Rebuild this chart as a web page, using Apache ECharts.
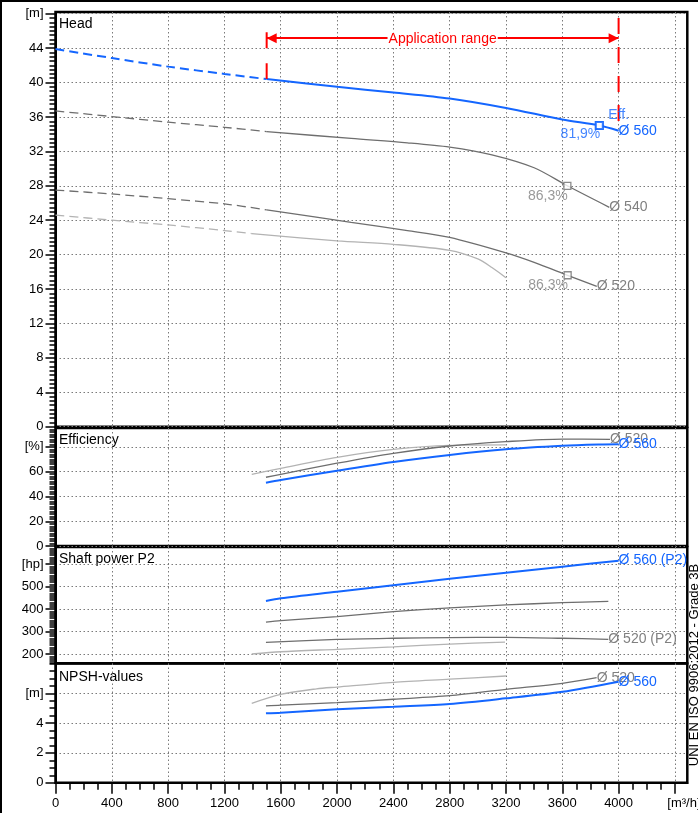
<!DOCTYPE html>
<html>
<head>
<meta charset="utf-8">
<script src="https://cdn.jsdelivr.net/npm/echarts@6/dist/echarts.min.js"></script>
<style>
html, body { margin: 0; padding: 0; background: #fff; }
#chart { width: 698px; height: 813px; }
</style>
</head>
<body>
<div id="chart"></div>
<script>
// ---- axes ----
const qTicks = [0, 400, 800, 1200, 1600, 2000, 2400, 2800, 3200, 3600, 4000, 4400];
const qUnitAt = 4400;
const headTicks = [0, 4, 8, 12, 16, 20, 24, 28, 32, 36, 40, 44, 48];
const effTicks = [0, 20, 40, 60, 80];
const powerTicks = [200, 300, 400, 500, 600];
const npshTicks = [0, 2, 4, 6];

// ---- head [m] ----
const h560DashQ = [0, 400, 800, 1200, 1500];
const h560DashH = [43.9, 42.85, 41.85, 41.0, 40.4];
const h560Q = [1500, 2000, 2400, 2800, 3200, 3600, 3863, 4000];
const h560H = [40.4, 39.5, 38.85, 38.15, 37.05, 35.7, 35.0, 34.4];

const h540DashQ = [0, 400, 800, 1200, 1500];
const h540DashH = [36.7, 36.05, 35.4, 34.8, 34.3];
const h540Q = [1500, 2100, 2500, 2800, 3100, 3400, 3636, 3934];
const h540H = [34.3, 33.5, 33.0, 32.5, 31.6, 30.1, 28.0, 25.5];

const h520DashQ = [0, 400, 800, 1200, 1500];
const h520DashH = [27.5, 27.05, 26.5, 25.9, 25.2];
const h520Q = [1500, 2100, 2500, 2800, 3200, 3400, 3638, 3845];
const h520H = [25.2, 23.75, 22.8, 22.0, 20.2, 19.1, 17.6, 16.3];

const h500DashQ = [0, 400, 800, 1200, 1394];
const h500DashH = [24.6, 24.0, 23.45, 22.8, 22.45];
const h500Q = [1394, 2000, 2400, 2800, 3000, 3100, 3200];
const h500H = [22.45, 21.6, 21.2, 20.5, 19.5, 18.5, 17.3];

// best efficiency points
const bep560 = [3863, 35.0];
const bep560Label = '81,9%';
const bepGrayQ = [3636, 3638];
const bepGrayH = [28.0, 17.6];
const bepGrayLabel = '86,3%';

// application range
const appRangeQ = [1500, 4000];
const appRangeArrowH = 45.16;
const appRangeTopH = [45.86, 47.5];
const appRangeBottomH = [40.4, 34.4];

// ---- efficiency [%] ----
const e500Q = [1394, 1600, 2000, 2400, 2800, 3200];
const e500 = [57.9, 62.7, 71.6, 78.0, 81.2, 81.6];
const e520Q = [1495, 1600, 2000, 2400, 2800, 3200, 3600, 3939];
const e520 = [55.5, 57.9, 66.8, 74.8, 80.7, 84.2, 86.3, 86.1];
const e560Q = [1495, 1600, 2000, 2400, 2800, 3200, 3600, 3863, 4000];
const e560 = [51.1, 53.3, 60.8, 67.8, 73.5, 78.1, 80.9, 81.9, 82.1];

// ---- shaft power P2 [hp] ----
const p500Q = [1394, 1600, 2000, 2400, 2800, 3193];
const p500 = [200, 210, 221, 232, 244, 253];
const p520Q = [1495, 2000, 2400, 2800, 3200, 3600, 3927];
const p520 = [252, 265, 270, 273, 274, 270, 265];
const p540Q = [1495, 1600, 2000, 2400, 2800, 3200, 3600, 3927];
const p540 = [342, 348, 366, 388, 405, 418, 428, 434];
const p560Q = [1495, 1600, 2000, 2400, 2800, 3200, 3600, 4000];
const p560 = [436, 448, 477, 506, 534, 561, 588, 615];

// ---- NPSH [m] ----
const n500Q = [1394, 1600, 1855, 2000, 2400, 2800, 3200];
const n500 = [5.33, 5.93, 6.3, 6.42, 6.74, 6.95, 7.16];
const n520Q = [1495, 1600, 2000, 2400, 2800, 3200, 3600, 3844];
const n520 = [5.15, 5.21, 5.37, 5.6, 5.84, 6.27, 6.67, 7.05];
const n560Q = [1495, 1600, 2000, 2400, 2800, 3200, 3600, 4000];
const n560 = [4.66, 4.7, 4.93, 5.1, 5.28, 5.66, 6.1, 6.78];

// ---- styling ----
const FONT = '"Liberation Sans", Arial, sans-serif';
const BLUE = '#1466ff';
const DARK = '#6e6e6e';
const LIGHT = '#b3b3b3';
const LABEL_GRAY = '#808080';
const RED = '#ff0000';
const GRID_LINE = { color: '#7a7a7a', width: 1, type: [1.5, 2.5] };

const Q_MAX = 4488;
const PLOT_LEFT = 55.5;
const PLOT_WIDTH = 631.8;

const zip = (xs, ys) => xs.map((x, i) => [x, ys[i]]);
function steps(from, to, step) {
  const out = [];
  for (let v = from; v <= to + 1e-9; v += step) out.push(+v.toFixed(3));
  return out;
}

const panels = [
  { top: 12, height: 414.7, min: 0, max: 48.2, ticks: headTicks, unitAt: 48, unit: '[m]', minor: steps(0, 48, 0.5) },
  { top: 428, height: 118.1, min: 0, max: 95.2, ticks: effTicks, unitAt: 80, unit: '[%]', minor: steps(0, 94, 2) },
  { top: 547, height: 116.3, min: 158.7, max: 675.6, ticks: powerTicks, unitAt: 600, unit: '[hp]', minor: steps(160, 670, 10) },
  { top: 663.5, height: 119.2, min: 0, max: 8, ticks: npshTicks, unitAt: 6, unit: '[m]', minor: steps(0, 8, 0.5) }
];

const grids = panels.map(p => ({
  left: PLOT_LEFT, top: p.top, width: PLOT_WIDTH, height: p.height,
  show: true, borderColor: '#000', borderWidth: 2.5, backgroundColor: 'transparent',
  containLabel: false, outerBoundsMode: 'none'
}));

const xAxes = panels.map((p, i) => {
  const bottom = i === panels.length - 1;
  return {
    type: 'value', gridIndex: i, min: 0, max: Q_MAX, position: 'bottom',
    axisLine: { show: bottom, onZero: false, lineStyle: { color: '#000', width: 2 } },
    axisTick: { show: bottom, customValues: qTicks, length: 11, lineStyle: { color: '#000', width: 1.5 } },
    axisLabel: {
      show: bottom, customValues: qTicks, margin: 14, color: '#000', fontSize: 13, fontFamily: FONT,
      formatter: v => v === qUnitAt ? '{u|[m³/h]}' : String(v),
      rich: { u: { color: '#000', fontSize: 13, fontFamily: FONT, padding: [0, 0, 0, 18] } }
    },
    splitLine: { show: true, lineStyle: GRID_LINE }
  };
});
// minor flow ticks
xAxes.push({
  type: 'value', gridIndex: 3, min: 0, max: Q_MAX, position: 'bottom', offset: 0,
  axisLine: { show: false, onZero: false },
  axisTick: { show: true, customValues: steps(0, 4400, 100), length: 7, lineStyle: { color: '#000', width: 1.5 } },
  axisLabel: { show: false },
  splitLine: { show: false }
});

const yAxes = panels.map((p, i) => ({
  type: 'value', gridIndex: i, min: p.min, max: p.max, position: 'left',
  axisLine: { show: true, onZero: false, lineStyle: { color: '#000', width: 2 } },
  axisTick: { show: true, customValues: p.ticks, length: 10, lineStyle: { color: '#000', width: 1.5 } },
  axisLabel: {
    show: true, customValues: p.ticks, margin: 12, color: '#000', fontSize: 13, fontFamily: FONT,
    formatter: v => v === p.unitAt ? p.unit : String(v)
  },
  splitLine: { show: true, lineStyle: GRID_LINE }
}));
panels.forEach((p, i) => {
  yAxes.push({
    type: 'value', gridIndex: i, min: p.min, max: p.max, position: 'left', offset: 0,
    axisLine: { show: false, onZero: false },
    axisTick: { show: true, customValues: p.minor, length: 6, lineStyle: { color: '#000', width: 1.5 } },
    axisLabel: { show: false },
    splitLine: { show: false }
  });
});

function curve(panel, xs, ys, color, width, dashed, endText, z) {
  const s = {
    type: 'line', xAxisIndex: panel, yAxisIndex: panel,
    data: zip(xs, ys), symbol: 'none', showSymbol: false, silent: true,
    smooth: 0.3, z: z || 2,
    lineStyle: { color: color, width: width, type: dashed ? [9, 5] : 'solid' }
  };
  if (endText) {
    s.endLabel = {
      show: true, formatter: endText, distance: 0,
      color: color === BLUE ? BLUE : LABEL_GRAY,
      fontSize: 14, fontFamily: FONT
    };
  }
  return s;
}

function bepMarker(points, color, borderWidth, text, pos, align, z) {
  return {
    type: 'scatter', xAxisIndex: 0, yAxisIndex: 0, silent: true, z: z || 5,
    data: points, symbol: 'rect', symbolSize: 7,
    itemStyle: { color: '#fff', borderColor: color, borderWidth: borderWidth },
    label: {
      show: true, formatter: text, position: pos, align: align, verticalAlign: 'middle',
      color: color === BLUE ? BLUE : LABEL_GRAY, fontSize: 14, fontFamily: FONT
    }
  };
}

const series = [
  // head
  curve(0, h500DashQ, h500DashH, LIGHT, 1.3, true),
  curve(0, h500Q, h500H, LIGHT, 1.3, false),
  curve(0, h520DashQ, h520DashH, DARK, 1.3, true),
  curve(0, h520Q, h520H, DARK, 1.3, false, 'Ø 520'),
  curve(0, h540DashQ, h540DashH, DARK, 1.3, true),
  curve(0, h540Q, h540H, DARK, 1.3, false, 'Ø 540'),
  curve(0, h560DashQ, h560DashH, BLUE, 2, true, null, 3),
  curve(0, h560Q, h560H, BLUE, 2, false, 'Ø 560', 3),
  // application range
  {
    type: 'line', xAxisIndex: 0, yAxisIndex: 0, silent: true, symbol: 'none', z: 4,
    data: [[appRangeQ[0], appRangeTopH[0]], [appRangeQ[0], appRangeBottomH[0]]],
    lineStyle: { color: RED, width: 2, type: [16, 15] },
    markLine: {
      silent: true, animation: false,
      symbol: ['triangle', 'triangle'], symbolSize: [10, 10], symbolOffset: [[0, 5], [0, 5]],
      lineStyle: { color: RED, width: 2, type: 'solid' },
      label: {
        show: true, position: 'middle', distance: -8, formatter: 'Application range',
        color: RED, fontSize: 14, fontFamily: FONT, backgroundColor: '#fff', padding: [0, 1]
      },
      data: [[{ coord: [appRangeQ[0], appRangeArrowH] }, { coord: [appRangeQ[1], appRangeArrowH] }]]
    }
  },
  {
    type: 'line', xAxisIndex: 0, yAxisIndex: 0, silent: true, symbol: 'none', z: 4,
    data: [[appRangeQ[1], appRangeTopH[1]], [appRangeQ[1], appRangeBottomH[1]]],
    lineStyle: { color: RED, width: 2, type: [16, 13] }
  },
  bepMarker(zip(bepGrayQ, bepGrayH), DARK, 1.3, bepGrayLabel, [4.5, 14.5], 'right'),
  bepMarker([bep560], BLUE, 2, bep560Label, [5.5, 13], 'right', 6),
  bepMarker([bep560], BLUE, 2, 'Eff.', [13.5, -5.5], 'left', 6),
  // efficiency
  curve(1, e500Q, e500, LIGHT, 1.3, false),
  curve(1, e520Q, e520, DARK, 1.3, false, 'Ø 520'),
  curve(1, e560Q, e560, BLUE, 2, false, 'Ø 560', 3),
  // shaft power
  curve(2, p500Q, p500, LIGHT, 1.3, false),
  curve(2, p520Q, p520, DARK, 1.3, false, 'Ø 520 (P2)'),
  curve(2, p540Q, p540, DARK, 1.3, false),
  curve(2, p560Q, p560, BLUE, 2, false, 'Ø 560 (P2)', 3),
  // NPSH
  curve(3, n500Q, n500, LIGHT, 1.3, false),
  curve(3, n520Q, n520, DARK, 1.3, false, 'Ø 520'),
  curve(3, n560Q, n560, BLUE, 2, false, 'Ø 560', 3)
];

const titleStyle = { fill: '#000', font: '14px ' + FONT };
const graphic = [
  { type: 'rect', shape: { x: 0, y: 0, width: 698, height: 2 }, style: { fill: '#000' }, silent: true },
  { type: 'rect', shape: { x: 0, y: 0, width: 2, height: 813 }, style: { fill: '#000' }, silent: true },
  { type: 'text', x: 59, y: 24, style: Object.assign({ text: 'Head', textVerticalAlign: 'middle' }, titleStyle), silent: true },
  { type: 'text', x: 59, y: 440.5, style: Object.assign({ text: 'Efficiency', textVerticalAlign: 'middle' }, titleStyle), silent: true },
  { type: 'text', x: 59, y: 559, style: Object.assign({ text: 'Shaft power P2', textVerticalAlign: 'middle' }, titleStyle), silent: true },
  { type: 'text', x: 59, y: 677.5, style: Object.assign({ text: 'NPSH-values', textVerticalAlign: 'middle' }, titleStyle), silent: true },
  {
    type: 'text', x: 694, y: 665, rotation: Math.PI / 2, silent: true,
    style: { text: 'UNI EN ISO 9906:2012 - Grade 3B', fill: '#000', font: '13px ' + FONT, textAlign: 'center', textVerticalAlign: 'middle' }
  }
];

const chart = echarts.init(document.getElementById('chart'), null, { renderer: 'canvas' });
chart.setOption({
  animation: false,
  backgroundColor: '#fff',
  grid: grids,
  xAxis: xAxes,
  yAxis: yAxes,
  series: series,
  graphic: graphic
});
</script>
</body>
</html>
